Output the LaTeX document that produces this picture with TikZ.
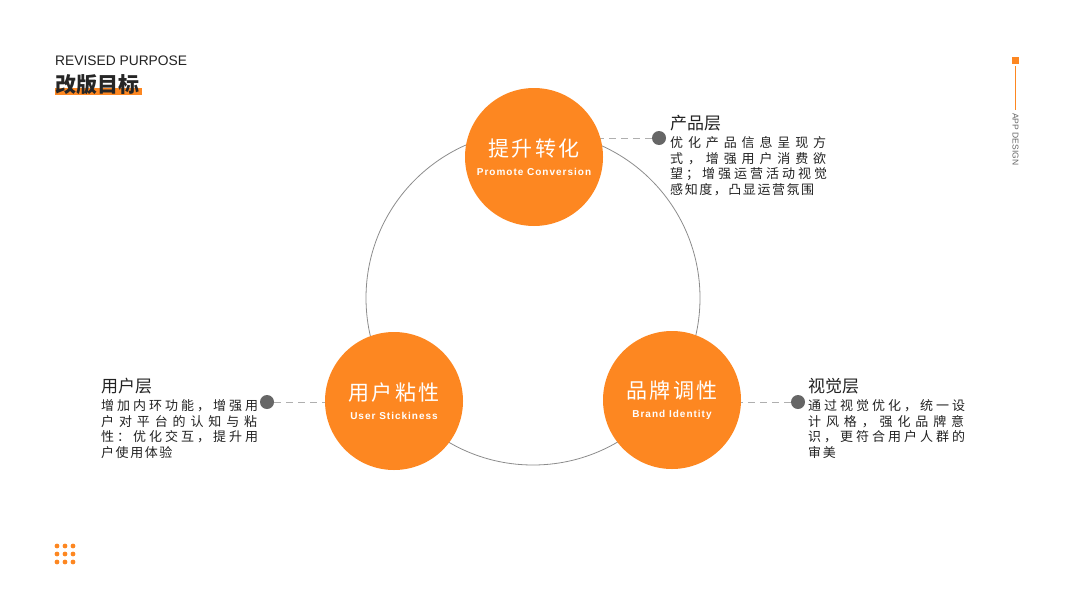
\documentclass[tikz,border=0pt]{standalone}
\usepackage{fontspec}
\setmainfont{Noto Sans CJK SC}
\newfontfamily\latinfont{Liberation Sans}
\newfontfamily\subfont[LetterSpace=10]{Liberation Sans}
\newfontfamily\bodyfont[LetterSpace=12]{Noto Sans CJK SC}
\newfontfamily\headfont[LetterSpace=12]{Noto Sans CJK SC}
\usetikzlibrary{backgrounds}
\definecolor{brandorange}{RGB}{253,135,33}
\definecolor{dotgray}{RGB}{102,102,102}
\definecolor{textgray}{RGB}{34,34,34}
\definecolor{ringgray}{RGB}{140,140,140}
\definecolor{dashgray}{RGB}{175,175,175}
\tikzset{
  bubble/.style={circle,fill=brandorange,minimum size=138pt,inner sep=0pt,text=white,align=center},
  pindot/.style={circle,fill=dotgray,minimum size=14pt,inner sep=0pt},
  leader/.style={dashgray,dash pattern=on 7pt off 5pt,line width=0.8pt},
  layertitle/.style={anchor=west,inner sep=0pt,text=textgray,font=\fontsize{17}{17}\selectfont},
  layertext/.style={anchor=north west,inner sep=0pt,text=textgray,align=left,font=\bodyfont\fontsize{13}{15.5}\selectfont},
}
\newcommand\jline[1]{\makebox[156pt][s]{#1}}
\newcommand\bubbletext[2]{{\headfont\fontsize{21}{22}\selectfont #1}\\[7pt]{\subfont\bfseries\fontsize{10}{12}\selectfont #2}}
\begin{document}
\begin{tikzpicture}[x=1pt,y=-1pt]
        \useasboundingbox (0,0) rectangle (1067,600);
        %titolo
        \node[anchor=west,inner sep=0pt,text=textgray,font=\latinfont\fontsize{13.8}{14}\selectfont] (subtitle) at (55,61) {REVISED PURPOSE};
        \fill[brandorange] (55,88) rectangle (142,95);
        \node[anchor=west,inner sep=0pt,text=black!85,font=\bfseries\fontsize{21}{22}\selectfont] (title) at (55,85) {改版目标};
        %marchio a destra
        \fill[brandorange] (1012,57) rectangle (1019,64);
        \draw[brandorange,line width=1.4pt] (1015.5,66)--(1015.5,110);
        \node[anchor=west,rotate=-90,inner sep=0pt,text=dotgray,font=\latinfont\fontsize{8.5}{9}\selectfont] (appdesign) at (1015.5,113) {APP DESIGN};
        %puntini
        \foreach \i in {0,1,2}
            \foreach \j in {0,1,2}
                \fill[brandorange] (57+8*\i,546+8*\j) circle (2.4);
        %cerchio grande
        \draw[ringgray,line width=0.8pt] (533,298) circle (167);
        %cerchi arancioni
        \node[bubble] (convert) at (534,157) {\bubbletext{提升转化}{Promote Conversion}};
        \node[bubble] (sticky) at (394,401) {\bubbletext{用户粘性}{User Stickiness}};
        \node[bubble] (brand) at (672,400) {\bubbletext{品牌调性}{Brand Identity}};
        %punti e linee tratteggiate
        \node[pindot] (dotProduct) at (659,138) {};
        \node[pindot] (dotUser) at (267,402) {};
        \node[pindot] (dotVisual) at (798,402) {};
        \begin{scope}[on background layer]
            \draw[leader] (dotProduct)--(dotProduct -| convert.center);
            \draw[leader] (dotUser)--(dotUser -| sticky.center);
            \draw[leader] (dotVisual)--(dotVisual -| brand.center);
        \end{scope}
        %livelli
        \node[layertitle] (productTitle) at (670,123) {产品层};
        \node[layertext] (productText) at (670,136.5) {\jline{优 化 产 品 信 息 呈 现 方}\\\jline{式 ， 增 强 用 户 消 费 欲}\\\jline{望 ； 增 强 运 营 活 动 视 觉}\\感知度，凸显运营氛围};
        \node[layertitle] (userTitle) at (101,386) {用户层};
        \node[layertext] (userText) at (101,399.5) {\jline{增 加 内 环 功 能 ， 增 强 用}\\\jline{户 对 平 台 的 认 知 与 粘}\\\jline{性 ： 优 化 交 互 ， 提 升 用}\\户使用体验};
        \node[layertitle] (visualTitle) at (808,386) {视觉层};
        \node[layertext] (visualText) at (808,399.5) {\jline{通 过 视 觉 优 化 ， 统 一 设}\\\jline{计 风 格 ， 强 化 品 牌 意}\\\jline{识 ， 更 符 合 用 户 人 群 的}\\审美};
    \end{tikzpicture}
\end{document}
